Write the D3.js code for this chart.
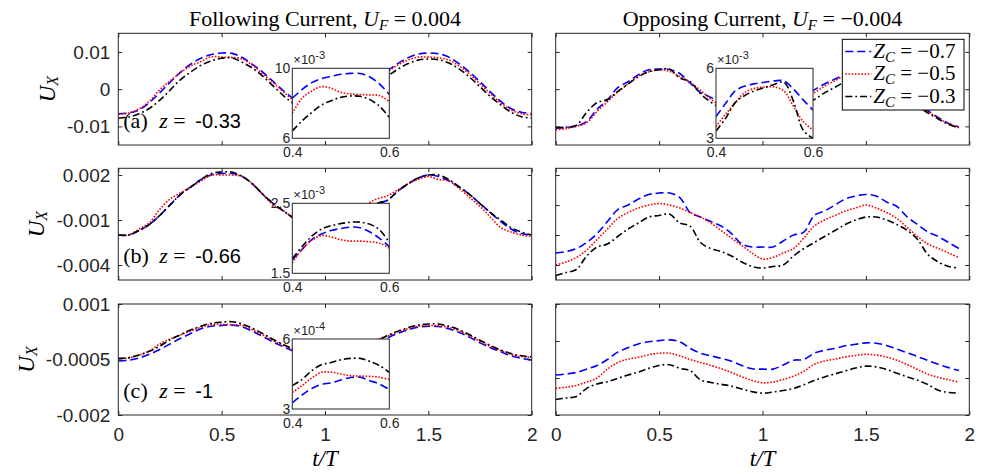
<!DOCTYPE html>
<html>
<head>
<meta charset="utf-8">
<script src="https://cdn.jsdelivr.net/npm/d3@7"></script>
<style>
  body { margin: 0; background: #fff; }
  svg { display: block; }
</style>
</head>
<body>
<svg id="chart" width="984" height="474"></svg>
<script>
// ---- data ----
const tMain = [0, 0.05, 0.1, 0.15, 0.2, 0.25, 0.3, 0.35, 0.4, 0.45, 0.5, 0.55, 0.6, 0.65, 0.7, 0.75, 0.8, 0.85, 0.9, 0.95,
               1, 1.05, 1.1, 1.15, 1.2, 1.25, 1.3, 1.35, 1.4, 1.45, 1.5, 1.55, 1.6, 1.65, 1.7, 1.75, 1.8, 1.85, 1.9, 1.95, 2];
const tInset = [0.40, 0.42, 0.44, 0.46, 0.48, 0.50, 0.52, 0.54, 0.56, 0.58, 0.60];

const zcLabels = ['\u22120.7', '\u22120.5', '\u22120.3'];
const xTickVals = [0, 0.5, 1, 1.5, 2];
const xTickLabels = ['0', '0.5', '1', '1.5', '2'];

// following current, z = -0.33
const fol033_c07 = [-0.0066,-0.0064,-0.0056,-0.0036,-0.0010,0.0018,0.0045,0.0067,0.0083,0.0093,0.0097,0.0096,0.0085,0.0066,0.0045,0.0020,-0.0005,-0.0027,-0.0050,-0.0062,-0.0066,-0.0062,-0.0050,-0.0030,-0.0005,0.0022,0.0048,0.0068,0.0084,0.0094,0.0097,0.0095,0.0086,0.0068,0.0045,0.0020,-0.0007,-0.0033,-0.0052,-0.0062,-0.0065];
const fol033_c05 = [-0.0068,-0.0064,-0.0053,-0.0033,-0.0002,0.0022,0.0044,0.0062,0.0074,0.0087,0.0086,0.0085,0.0081,0.0064,0.0040,0.0017,-0.0008,-0.0031,-0.0052,-0.0064,-0.0068,-0.0064,-0.0052,-0.0032,-0.0006,0.0020,0.0045,0.0064,0.0078,0.0086,0.0086,0.0084,0.0078,0.0062,0.0040,0.0014,-0.0012,-0.0037,-0.0056,-0.0066,-0.0069];
const fol033_c03 = [-0.0078,-0.0075,-0.0066,-0.0052,-0.0030,-0.0003,0.0025,0.0046,0.0064,0.0076,0.0083,0.0084,0.0072,0.0056,0.0034,0.0008,-0.0018,-0.0040,-0.0060,-0.0073,-0.0077,-0.0073,-0.0062,-0.0044,-0.0020,0.0008,0.0033,0.0053,0.0068,0.0078,0.0081,0.0079,0.0070,0.0054,0.0032,0.0006,-0.0020,-0.0042,-0.0062,-0.0074,-0.0078];
// opposing current, z = -0.33
const opp033_c07 = [-0.0105,-0.0103,-0.0099,-0.0087,-0.0054,-0.0029,0.0004,0.0020,0.0039,0.0052,0.0054,0.0053,0.0042,0.0016,-0.0009,-0.0022,-0.0040,-0.0058,-0.0072,-0.0080,-0.0082,-0.0078,-0.0064,-0.0044,-0.0020,-0.0002,0.0014,0.0027,0.0040,0.0050,0.0054,0.0050,0.0036,0.0016,-0.0010,-0.0036,-0.0058,-0.0076,-0.0092,-0.0102];
const opp033_c05 = [-0.0109,-0.0106,-0.0100,-0.0090,-0.0060,-0.0034,-0.0008,0.0014,0.0035,0.0047,0.0052,0.0048,0.0034,0.0019,-0.0003,-0.0027,-0.0045,-0.0062,-0.0075,-0.0083,-0.0085,-0.0081,-0.0068,-0.0050,-0.0028,-0.0010,0.0008,0.0023,0.0036,0.0046,0.0051,0.0047,0.0033,0.0012,-0.0013,-0.0038,-0.0060,-0.0078,-0.0093,-0.0103];
const opp033_c03 = [-0.0103,-0.0102,-0.0097,-0.0062,-0.0036,-0.0028,-0.0006,0.0014,0.0033,0.0047,0.0052,0.0054,0.0030,0.0020,-0.0012,-0.0035,-0.0052,-0.0068,-0.0080,-0.0088,-0.0090,-0.0087,-0.0076,-0.0060,-0.0042,-0.0028,-0.0010,0.0005,0.0020,0.0034,0.0042,0.0040,0.0026,0.0005,-0.0020,-0.0044,-0.0064,-0.0080,-0.0095,-0.0104];
// following current, z = -0.66
const fol066_c07 = [-0.0020,-0.0020,-0.0017,-0.0013,-0.0007,0.0000,0.0007,0.0012,0.0017,0.0020,0.0021,0.0021,0.0019,0.0014,0.0007,0.0001,-0.0004,-0.0009,-0.0014,-0.0018,-0.0020,-0.0019,-0.0015,-0.0010,-0.0004,0.0001,0.0003,0.0009,0.0014,0.0018,0.0020,0.0019,0.0016,0.0012,0.0007,0.0001,-0.0005,-0.0011,-0.0016,-0.0019,-0.0020];
const fol066_c05 = [-0.0020,-0.0020,-0.0016,-0.0012,-0.0003,0.0004,0.0008,0.0012,0.0016,0.0020,0.0020,0.0020,0.0019,0.0014,0.0007,0.0000,-0.0004,-0.0009,-0.0014,-0.0018,-0.0020,-0.0019,-0.0014,-0.0008,0.0000,0.0004,0.0006,0.0010,0.0014,0.0017,0.0019,0.0017,0.0016,0.0011,0.0005,-0.0001,-0.0008,-0.0015,-0.0018,-0.0020,-0.0021];
const fol066_c03 = [-0.0020,-0.0020,-0.0017,-0.0013,-0.0007,0.0000,0.0007,0.0012,0.0017,0.0021,0.0022,0.0022,0.0019,0.0014,0.0007,0.0001,-0.0004,-0.0009,-0.0014,-0.0018,-0.0020,-0.0019,-0.0016,-0.0011,-0.0005,0.0001,0.0003,0.0009,0.0014,0.0018,0.0020,0.0020,0.0017,0.0012,0.0007,0.0001,-0.0005,-0.0010,-0.0015,-0.0018,-0.0020];
// opposing current, z = -0.66
const opp066_c07 = [-0.0032,-0.0031,-0.0029,-0.0025,-0.0019,-0.0011,-0.0003,0.0000,0.0004,0.0007,0.0008,0.0008,0.0005,-0.0005,-0.0008,-0.0011,-0.0014,-0.0019,-0.0026,-0.0028,-0.0028,-0.0028,-0.0024,-0.0020,-0.0018,-0.0007,-0.0004,0.0000,0.0004,0.0006,0.0007,0.0006,0.0002,-0.0001,-0.0008,-0.0013,-0.0018,-0.0021,-0.0025,-0.0029];
const opp066_c05 = [-0.0040,-0.0038,-0.0035,-0.0030,-0.0023,-0.0016,-0.0009,-0.0005,-0.0002,0.0000,0.0001,0.0000,-0.0002,-0.0005,-0.0008,-0.0012,-0.0017,-0.0022,-0.0027,-0.0032,-0.0036,-0.0035,-0.0032,-0.0029,-0.0022,-0.0014,-0.0010,-0.0007,-0.0004,-0.0002,0.0000,-0.0002,-0.0005,-0.0009,-0.0015,-0.0021,-0.0026,-0.0029,-0.0032,-0.0035];
const opp066_c03 = [-0.0047,-0.0045,-0.0043,-0.0034,-0.0028,-0.0026,-0.0021,-0.0016,-0.0012,-0.0008,-0.0007,-0.0006,-0.0012,-0.0014,-0.0025,-0.0029,-0.0031,-0.0034,-0.0038,-0.0041,-0.0042,-0.0041,-0.0040,-0.0034,-0.0029,-0.0025,-0.0021,-0.0017,-0.0013,-0.0010,-0.0008,-0.0008,-0.0010,-0.0013,-0.0017,-0.0023,-0.0033,-0.0038,-0.0041,-0.0042];
// following current, z = -1
const fol100_c07 = [-0.00054,-0.00052,-0.00046,-0.00036,-0.00023,-0.00008,0.00007,0.00020,0.00033,0.00040,0.00042,0.00043,0.00038,0.00026,0.00012,-0.00003,-0.00016,-0.00028,-0.00039,-0.00047,-0.00050,-0.00048,-0.00042,-0.00032,-0.00019,-0.00005,0.00008,0.00020,0.00030,0.00037,0.00040,0.00039,0.00033,0.00023,0.00010,-0.00005,-0.00018,-0.00029,-0.00040,-0.00047,-0.00051];
const fol100_c05 = [-0.00048,-0.00046,-0.00038,-0.00027,-0.00008,0.00005,0.00016,0.00027,0.00037,0.00045,0.00045,0.00044,0.00042,0.00030,0.00016,0.00001,-0.00012,-0.00024,-0.00035,-0.00042,-0.00046,-0.00044,-0.00036,-0.00024,-0.00008,0.00004,0.00013,0.00024,0.00033,0.00040,0.00042,0.00041,0.00037,0.00027,0.00014,-0.00001,-0.00015,-0.00026,-0.00036,-0.00042,-0.00044];
const fol100_c03 = [-0.00047,-0.00045,-0.00038,-0.00028,-0.00014,0.00003,0.00017,0.00030,0.00040,0.00048,0.00051,0.00052,0.00046,0.00034,0.00020,0.00004,-0.00010,-0.00022,-0.00033,-0.00041,-0.00045,-0.00043,-0.00037,-0.00027,-0.00014,0.00000,0.00014,0.00026,0.00036,0.00043,0.00046,0.00046,0.00040,0.00030,0.00017,0.00002,-0.00012,-0.00024,-0.00034,-0.00040,-0.00043];
// opposing current, z = -1
const opp100_c07 = [-0.00092,-0.00089,-0.00085,-0.00076,-0.00066,-0.00050,-0.00030,-0.00018,-0.00008,-0.00002,0.00001,0.00003,-0.00002,-0.00020,-0.00033,-0.00040,-0.00047,-0.00055,-0.00066,-0.00075,-0.00076,-0.00076,-0.00065,-0.00052,-0.00050,-0.00033,-0.00025,-0.00020,-0.00013,-0.00009,-0.00005,-0.00006,-0.00012,-0.00022,-0.00032,-0.00042,-0.00053,-0.00063,-0.00072,-0.00080];
const opp100_c05 = [-0.00128,-0.00125,-0.00120,-0.00111,-0.00100,-0.00076,-0.00058,-0.00049,-0.00044,-0.00037,-0.00033,-0.00033,-0.00040,-0.00050,-0.00058,-0.00066,-0.00075,-0.00085,-0.00097,-0.00107,-0.00113,-0.00111,-0.00104,-0.00095,-0.00082,-0.00063,-0.00054,-0.00049,-0.00043,-0.00039,-0.00036,-0.00038,-0.00043,-0.00052,-0.00064,-0.00077,-0.00090,-0.00098,-0.00105,-0.00111];
const opp100_c03 = [-0.00158,-0.00154,-0.00150,-0.00128,-0.00116,-0.00110,-0.00101,-0.00092,-0.00084,-0.00074,-0.00066,-0.00064,-0.00074,-0.00080,-0.00105,-0.00112,-0.00117,-0.00122,-0.00130,-0.00137,-0.00141,-0.00138,-0.00134,-0.00128,-0.00118,-0.00107,-0.00097,-0.00089,-0.00081,-0.00073,-0.00068,-0.00070,-0.00077,-0.00087,-0.00097,-0.00106,-0.00118,-0.00133,-0.00139,-0.00141];

// zoomed views around t = 0.5
const insFol033_c07 = [0.00829,0.00878,0.00918,0.00941,0.00954,0.00966,0.00971,0.00970,0.00950,0.00910,0.00851];
const insFol033_c05 = [0.00743,0.00829,0.00870,0.00895,0.00886,0.00863,0.00853,0.00850,0.00848,0.00844,0.00810];
const insFol033_c03 = [0.00642,0.00699,0.00747,0.00790,0.00815,0.00834,0.00842,0.00840,0.00821,0.00783,0.00718];
const insOpp033_c07 = [0.00393,0.00450,0.00504,0.00524,0.00534,0.00540,0.00546,0.00546,0.00510,0.00464,0.00421];
const insOpp033_c05 = [0.00350,0.00404,0.00453,0.00497,0.00514,0.00520,0.00520,0.00503,0.00436,0.00371,0.00336];
const insOpp033_c03 = [0.00331,0.00386,0.00454,0.00484,0.00504,0.00517,0.00531,0.00540,0.00457,0.00334,0.00300];
const insFol066_c07 = [0.00169,0.00184,0.00198,0.00206,0.00211,0.00214,0.00216,0.00215,0.00209,0.00200,0.00188];
const insFol066_c05 = [0.00165,0.00184,0.00197,0.00204,0.00202,0.00198,0.00196,0.00196,0.00195,0.00193,0.00186];
const insFol066_c03 = [0.00171,0.00188,0.00203,0.00213,0.00218,0.00221,0.00223,0.00223,0.00220,0.00212,0.00194];
const insFol100_c07 = [0.000326,0.000360,0.000388,0.000405,0.000412,0.000424,0.000435,0.000436,0.000421,0.000407,0.000383];
const insFol100_c05 = [0.000371,0.000400,0.000433,0.000457,0.000458,0.000450,0.000443,0.000441,0.000440,0.000436,0.000426];
const insFol100_c03 = [0.000400,0.000426,0.000464,0.000490,0.000499,0.000511,0.000517,0.000517,0.000504,0.000486,0.000457];

// ---- styling / layout ----
const serif = '"Liberation Serif", "Times New Roman", serif';
const sans = '"Liberation Sans", Arial, Helvetica, sans-serif';
const axisColor = '#262626';
const lineStyles = [
  {color: '#0000ff', dash: '8,4'},
  {color: '#ff0000', dash: '1.6,1.6'},
  {color: '#000000', dash: '7,3,1.8,3'}
];
const cols = [{x0: 118.3, x1: 531.7}, {x0: 555.7, x1: 969.3}];
const rows = [{y0: 33.3, y1: 145}, {y0: 168.3, y1: 280}, {y0: 304, y1: 415}];

const panels = [
  {col: 0, row: 0, yDomain: [-0.015, 0.015], yTicks: [-0.01, 0, 0.01], yLabels: ['-0.01', '0', '0.01'],
   data: [fol033_c07, fol033_c05, fol033_c03], tag: '(a)', z: '-0.33', ylabX: 47,
   inset: {dx: 174, yDomain: [0.006, 0.010], exp: '-3', data: [insFol033_c07, insFol033_c05, insFol033_c03]}},
  {col: 1, row: 0, yDomain: [-0.015, 0.015], yTicks: [-0.01, 0, 0.01],
   data: [opp033_c07, opp033_c05, opp033_c03], legend: true,
   inset: {dx: 160.3, yDomain: [0.003, 0.006], exp: '-3', data: [insOpp033_c07, insOpp033_c05, insOpp033_c03]}},
  {col: 0, row: 1, yDomain: [-0.005, 0.00245], yTicks: [-0.004, -0.001, 0.002], yLabels: ['-0.004', '-0.001', '0.002'],
   data: [fol066_c07, fol066_c05, fol066_c03], tag: '(b)', z: '-0.66', ylabX: 36,
   inset: {dx: 174, yDomain: [0.0015, 0.0025], exp: '-3', data: [insFol066_c07, insFol066_c05, insFol066_c03]}},
  {col: 1, row: 1, yDomain: [-0.005, 0.00245], yTicks: [-0.004, -0.002, 0, 0.002],
   data: [opp066_c07, opp066_c05, opp066_c03]},
  {col: 0, row: 2, yDomain: [-0.002, 0.001], yTicks: [-0.002, -0.0005, 0.001], yLabels: ['-0.002', '-0.0005', '0.001'],
   data: [fol100_c07, fol100_c05, fol100_c03], tag: '(c)', z: '-1', ylabX: 26,
   inset: {dx: 174, yDomain: [0.0003, 0.0006], exp: '-4', data: [insFol100_c07, insFol100_c05, insFol100_c03]}},
  {col: 1, row: 2, yDomain: [-0.002, 0.001], yTicks: [-0.002, -0.001, 0, 0.001],
   data: [opp100_c07, opp100_c05, opp100_c03]}
];

const svg = d3.select('#chart');
const defs = svg.append('defs');
let clipCount = 0;

function addClip(x, y, w, h) {
  const id = 'clip' + (clipCount++);
  defs.append('clipPath').attr('id', id).append('rect')
    .attr('x', x).attr('y', y).attr('width', w).attr('height', h);
  return id;
}

function drawLines(g, xs, ys, tVals, seriesList, clipId) {
  const line = d3.line()
    .x((d, i) => xs(tVals[i]))
    .y(d => ys(d))
    .curve(d3.curveCatmullRom.alpha(0.5));
  g.append('g').attr('clip-path', 'url(#' + clipId + ')')
    .selectAll('path').data(seriesList).join('path')
    .attr('d', line)
    .attr('fill', 'none')
    .attr('stroke', (d, i) => lineStyles[i].color)
    .attr('stroke-dasharray', (d, i) => lineStyles[i].dash)
    .attr('stroke-width', 1.6);
}

function styleAxis(g, size) {
  g.select('.domain').remove();
  g.selectAll('.tick line').attr('stroke', axisColor);
  g.selectAll('.tick text').attr('fill', axisColor)
    .attr('font-family', sans).attr('font-size', size);
  // ticks without a label keep only their mark
  g.selectAll('.tick text').filter(function() { return this.textContent === ''; }).remove();
}

panels.forEach(p => {
  const c = cols[p.col], r = rows[p.row];
  const x = d3.scaleLinear().domain([0, 2]).range([c.x0, c.x1]);
  const y = d3.scaleLinear().domain(p.yDomain).range([r.y1, r.y0]);
  const g = svg.append('g');

  const clip = addClip(c.x0, r.y0, c.x1 - c.x0, r.y1 - r.y0);
  drawLines(g, x, y, tMain, p.data, clip);

  // ticks on all four sides, pointing inwards
  const showX = p.row === 2;
  g.append('g').attr('transform', `translate(0,${r.y1})`)
    .call(d3.axisBottom(x).tickValues(xTickVals).tickSize(-4).tickPadding(13)
      .tickFormat((d, i) => showX ? xTickLabels[i] : ''))
    .call(s => styleAxis(s, 19));
  g.append('g').attr('transform', `translate(0,${r.y0})`)
    .call(d3.axisTop(x).tickValues(xTickVals).tickSize(-4).tickFormat(''))
    .call(s => styleAxis(s, 19));
  g.append('g').attr('transform', `translate(${c.x0},0)`)
    .call(d3.axisLeft(y).tickValues(p.yTicks).tickSize(-4).tickPadding(8)
      .tickFormat((d, i) => p.yLabels ? p.yLabels[i] : ''))
    .call(s => styleAxis(s, 19));
  g.append('g').attr('transform', `translate(${c.x1},0)`)
    .call(d3.axisRight(y).tickValues(p.yTicks).tickSize(-4).tickFormat(''))
    .call(s => styleAxis(s, 19));
  g.append('rect').attr('x', c.x0).attr('y', r.y0)
    .attr('width', c.x1 - c.x0).attr('height', r.y1 - r.y0)
    .attr('fill', 'none').attr('stroke', axisColor).attr('stroke-width', 1);

  if (p.ylabX) {
    const yl = g.append('text')
      .attr('transform', `translate(${p.ylabX},${(r.y0 + r.y1) / 2}) rotate(-90)`)
      .attr('text-anchor', 'middle').attr('dominant-baseline', 'central')
      .attr('font-family', serif).attr('font-size', 23).attr('fill', '#000');
    yl.append('tspan').attr('font-style', 'italic').text('U');
    yl.append('tspan').attr('font-style', 'italic').attr('font-size', 16).attr('dy', 5).text('X');
  }

  if (p.tag) {
    const tl = g.append('text').attr('y', r.y1 - 17)
      .attr('font-family', serif).attr('font-size', 22).attr('fill', '#000');
    tl.append('tspan').attr('x', c.x0 + 5).text(p.tag);
    tl.append('tspan').attr('x', c.x0 + 41).attr('font-style', 'italic').text('z');
    tl.append('tspan').attr('x', c.x0 + 55).text('=');
    tl.append('tspan').attr('x', c.x0 + 77).attr('font-family', sans).attr('font-size', 20).text(p.z);
  }

  if (p.inset) {
    const ins = p.inset;
    const ix0 = c.x0 + ins.dx, ix1 = ix0 + 97;
    const iy0 = r.y0 + 35, iy1 = iy0 + 70;
    const xi = d3.scaleLinear().domain([0.4, 0.6]).range([ix0, ix1]);
    const yi = d3.scaleLinear().domain(ins.yDomain).range([iy1, iy0]);
    const gi = g.append('g');
    gi.append('rect').attr('x', ix0).attr('y', iy0).attr('width', ix1 - ix0).attr('height', iy1 - iy0)
      .attr('fill', '#fff');
    drawLines(gi, xi, yi, tInset, ins.data, addClip(ix0, iy0, ix1 - ix0, iy1 - iy0));
    const scale = Math.pow(10, -(+ins.exp));
    gi.append('g').attr('transform', `translate(0,${iy1})`)
      .call(d3.axisBottom(xi).tickValues([0.4, 0.6]).tickSize(0).tickPadding(9).tickFormat(d3.format('.1f')))
      .call(s => styleAxis(s, 14));
    gi.append('g').attr('transform', `translate(${ix0},0)`)
      .call(d3.axisLeft(yi).tickValues(ins.yDomain).tickSize(0).tickPadding(2)
        .tickFormat(d => d3.format('~g')(+(d * scale).toFixed(2))))
      .call(s => styleAxis(s, 14));
    gi.append('rect').attr('x', ix0).attr('y', iy0).attr('width', ix1 - ix0).attr('height', iy1 - iy0)
      .attr('fill', 'none').attr('stroke', axisColor).attr('stroke-width', 1);
    const ex = gi.append('text').attr('x', ix0 + 1).attr('y', iy0 - 4)
      .attr('font-family', sans).attr('font-size', 13).attr('fill', axisColor);
    ex.append('tspan').text('\u00d710');
    ex.append('tspan').attr('font-size', 11).attr('dy', -5).text(ins.exp);
  }

  if (p.legend) {
    const lx = 842.3, ly = 39.3, lw = 121.7, lh = 70.7;
    const gl = g.append('g');
    gl.append('rect').attr('x', lx).attr('y', ly).attr('width', lw).attr('height', lh)
      .attr('fill', '#fff').attr('stroke', '#000').attr('stroke-width', 1);
    const rowY = [51.5, 74, 96.5];
    zcLabels.forEach((lab, i) => {
      gl.append('line').attr('x1', lx + 3).attr('x2', lx + 29).attr('y1', rowY[i]).attr('y2', rowY[i])
        .attr('stroke', lineStyles[i].color).attr('stroke-dasharray', lineStyles[i].dash)
        .attr('stroke-width', 1.6);
      const t = gl.append('text').attr('x', lx + 31).attr('y', rowY[i] + 6)
        .attr('font-family', serif).attr('font-size', 21).attr('fill', '#000');
      t.append('tspan').attr('font-style', 'italic').text('Z');
      t.append('tspan').attr('font-style', 'italic').attr('font-size', 15).attr('dy', 4).text('C');
      t.append('tspan').attr('dy', -4).text(' = ' + lab);
    });
  }
});

// column titles and x labels
const titles = [
  {col: 0, text: 'Following Current, ', val: ' = 0.004'},
  {col: 1, text: 'Opposing Current, ', val: ' = \u22120.004'}
];
titles.forEach(tt => {
  const c = cols[tt.col];
  const cx = (c.x0 + c.x1) / 2;
  const t = svg.append('text').attr('x', cx).attr('y', 26).attr('text-anchor', 'middle')
    .attr('font-family', serif).attr('font-size', 22).attr('fill', '#000');
  t.append('tspan').text(tt.text);
  t.append('tspan').attr('font-style', 'italic').text('U');
  t.append('tspan').attr('font-style', 'italic').attr('font-size', 15).attr('dy', 4).text('F');
  t.append('tspan').attr('dy', -4).text(tt.val);

  svg.append('text').attr('x', cx).attr('y', 466).attr('text-anchor', 'middle')
    .attr('font-family', serif).attr('font-size', 23).attr('font-style', 'italic').attr('fill', '#000')
    .text('t/T');
});
</script>
</body>
</html>
